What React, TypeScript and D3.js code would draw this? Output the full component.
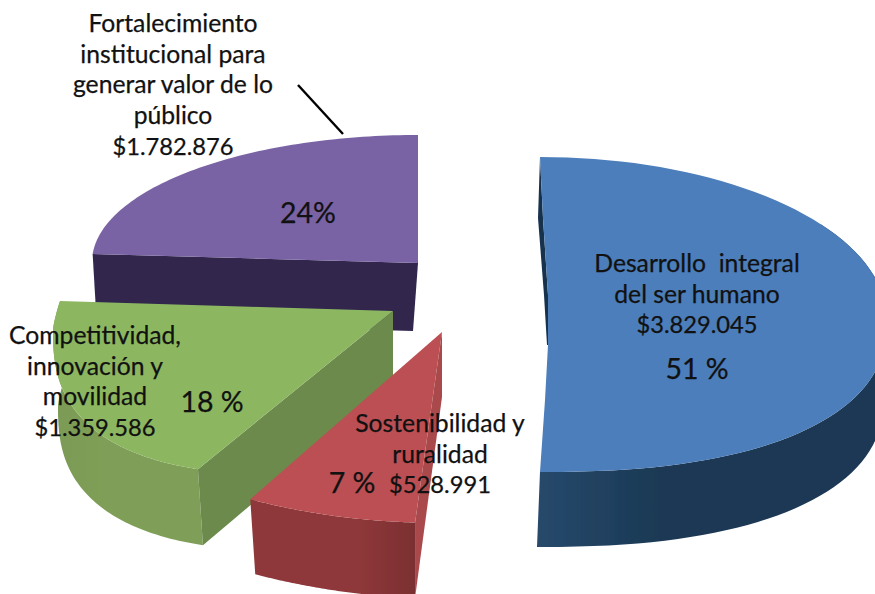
import React from "react";
import * as d3 from "d3";

const categories = ["Desarrollo integral del ser humano", "Sostenibilidad y ruralidad", "Competitividad, innovación y movilidad", "Fortalecimiento institucional para generar valor de lo público"];
const values = [3829045, 528991, 1359586, 1782876];
const nameLines = [
  ["Desarrollo  integral", "del ser humano", "$3.829.045"],
  ["Sostenibilidad y", "ruralidad", "$528.991"],
  ["Competitividad,", "innovación y", "movilidad", "$1.359.586"],
  ["Fortalecimiento", "institucional para", "generar valor de lo", "público", "$1.782.876"],
];
const percentLabels = ["51 %", "7 %", "18 %", "24%"];

const WIDTH = 875;
const HEIGHT = 594;
const FONT = "Lato, Carlito, Calibri, sans-serif";
const rad = Math.PI / 180;

type Pt = [number, number];
type Shape = {
  apex: Pt[]; cx: number; cy: number; rx: number; ryT: number; ryB: number; eT: number; eB: number;
  t: [number, number]; rimShift: Pt; apexShift: Pt;
  top: string; rimA: string; rimB: string; face: string;
};

const shapes: Shape[] = [
  { apex: [[545, 400], [548, 345], [548, 295], [543, 218]], cx: 540, cy: 320, rx: 347, ryT: 163, ryB: 152, eT: 1, eB: 0.85, t: [0, 180], rimShift: [-3, 75], apexShift: [0, 0], top: "#4c7eba", rimA: "#26496c", rimB: "#1b3954", face: "#16324e" },
  { apex: [[442, 332]], cx: 441, cy: 336, rx: 391, ryT: 187, ryB: 187, eT: 1, eB: 1, t: [183.8, 209.2], rimShift: [0, 75], apexShift: [0, 65], top: "#bb5052", rimA: "#7b2f31", rimB: "#8f383a", face: "#a94a4c" },
  { apex: [[393, 311]], cx: 300, cy: 330, rx: 247, ryT: 339, ryB: 145, eT: 1.5, eB: 0.77, t: [198.5, 281.2], rimShift: [5, 76], apexShift: [0, 74], top: "#8cb761", rimA: "#7b9a55", rimB: "#7f9f58", face: "#6c8a4c" },
  { apex: [[418, 263]], cx: 418, cy: 262, rx: 326, ryT: 127, ryB: 127, eT: 1, eB: 1, t: [273.6, 360], rimShift: [0, 0], apexShift: [-5, 68], top: "#7a64a5", rimA: "#30264e", rimB: "#30264e", face: "#30264e" },
];

// text anchor points, one per slice
const nameLayout = [
  { x: 697, y: 272, dy: 30.7, size: 24.7 },
  { x: 440, y: 432, dy: 30.7, size: 24.7 },
  { x: 95, y: 344, dy: 30.5, size: 24.7 },
  { x: 173, y: 32, dy: 30.7, size: 24.7 },
];
const amountSize = 23.7;
const percentLayout = [
  { x: 697, y: 379 },
  { x: 352, y: 493 },
  { x: 212, y: 412 },
  { x: 308, y: 223 },
];

const spow = (v: number, e: number) => Math.sign(v) * Math.pow(Math.abs(v), e);

function rimPoint(s: Shape, deg: number): Pt {
  const sn = Math.sin(deg * rad);
  const cs = Math.cos(deg * rad);
  const e = cs >= 0 ? s.eT : s.eB;
  const ry = cs >= 0 ? s.ryT : s.ryB;
  return [s.cx + s.rx * spow(sn, e), s.cy - ry * spow(cs, e)];
}

const pieGen = d3.pie<number>().sort(null).startAngle(0).endAngle(2 * Math.PI);
const arcs = pieGen(values);
const line = d3.line();

function sampleRim(s: Shape, arc: d3.PieArcDatum<number>): Pt[] {
  const angle = d3.scaleLinear().domain([arc.startAngle, arc.endAngle]).range(s.t);
  return d3.range(0, 81).map((i) => rimPoint(s, angle(arc.startAngle + ((arc.endAngle - arc.startAngle) * i) / 80)));
}

const shift = (p: Pt, d: Pt): Pt => [p[0] + d[0], p[1] + d[1]];

function Slice({ index }: { index: number }) {
  const s = shapes[index];
  const rim = sampleRim(s, arcs[index]);
  const topPath = line([...s.apex, ...rim])! + "Z";
  const id = `rim${index}`;
  const apex0 = s.apex[0];
  let side: React.ReactNode = null;
  if (index === 0) {
    const lower = rim.filter((_, i) => i >= 24);
    const band = [...lower, ...lower.slice().reverse().map((p) => shift(p, s.rimShift))];
    const sliver: Pt[] = [[540, 157], [538, 218], [544, 295], [547, 345], [548, 345], [548, 295], [543, 218]];
    side = (
      <>
        <path d={line(sliver)! + "Z"} fill={s.face} />
        <path d={line(band)! + "Z"} fill={`url(#${id})`} />
      </>
    );
  } else if (index === 1) {
    const end = rim[0];
    const face: Pt[] = [apex0, shift(apex0, s.apexShift), shift(end, s.rimShift), end];
    const band = [...rim, ...rim.slice().reverse().map((p) => shift(p, [p[0] < 300 ? 5 : (5 * (415 - p[0])) / 115, s.rimShift[1]]))];
    side = (
      <>
        <path d={line(face)! + "Z"} fill={s.face} />
        <path d={line(band)! + "Z"} fill={`url(#${id})`} />
      </>
    );
  } else if (index === 2) {
    const end = rim[0];
    const face: Pt[] = [apex0, shift(apex0, s.apexShift), shift(end, s.rimShift), end];
    const band = [...rim, ...rim.slice().reverse().map((p) => shift(p, s.rimShift))];
    side = (
      <>
        <path d={line(band)! + "Z"} fill={`url(#${id})`} />
        <path d={line(face)! + "Z"} fill={s.face} />
      </>
    );
  } else {
    const end = rim[0];
    const face: Pt[] = [end, apex0, shift(apex0, s.apexShift), shift(end, [4, 68])];
    side = <path d={line(face)! + "Z"} fill={s.face} />;
  }
  const flip = index === 1;
  return (
    <g>
      <defs>
        <linearGradient id={id} x1={flip ? "1" : "0"} x2={flip ? "0" : "1"} y1="0" y2="0">
          <stop offset="0" stopColor={s.rimA} />
          <stop offset="0.35" stopColor={s.rimB} />
          <stop offset="1" stopColor={s.rimB} />
        </linearGradient>
      </defs>
      {side}
      <path d={topPath} fill={s.top} />
    </g>
  );
}

export default function App() {
  const drawOrder = [3, 2, 1, 0];
  return (
    <svg width={WIDTH} height={HEIGHT} viewBox={`0 0 ${WIDTH} ${HEIGHT}`} role="img" aria-label={categories.join(", ")}
      style={{ position: "absolute", left: 0, top: 0, display: "block", background: "#fff" }}>
      <defs>
        <filter id="soft" x="-5%" y="-5%" width="110%" height="110%">
          <feGaussianBlur stdDeviation="0.5" />
        </filter>
      </defs>
      <g filter="url(#soft)">
        {drawOrder.map((i) => <Slice key={i} index={i} />)}
      </g>
      <line x1={298} y1={85} x2={343} y2={134} stroke="#000" strokeWidth={2.4} />
      <g fontFamily={FONT} fill="#111" stroke="#111" strokeWidth={0.25} textAnchor="middle">
        {nameLines.map((lines, i) => (
          <text key={i} fontSize={nameLayout[i].size} style={{ whiteSpace: "pre" }}>
            {lines.map((t, j) => (
              <tspan key={j} x={nameLayout[i].x} y={nameLayout[i].y + j * nameLayout[i].dy}
                fontSize={j === lines.length - 1 ? amountSize : undefined}>{t}</tspan>
            ))}
          </text>
        ))}
        {percentLabels.map((t, i) => (
          <text key={i} x={percentLayout[i].x} y={percentLayout[i].y} fontSize={28.5}>{t}</text>
        ))}
      </g>
    </svg>
  );
}
